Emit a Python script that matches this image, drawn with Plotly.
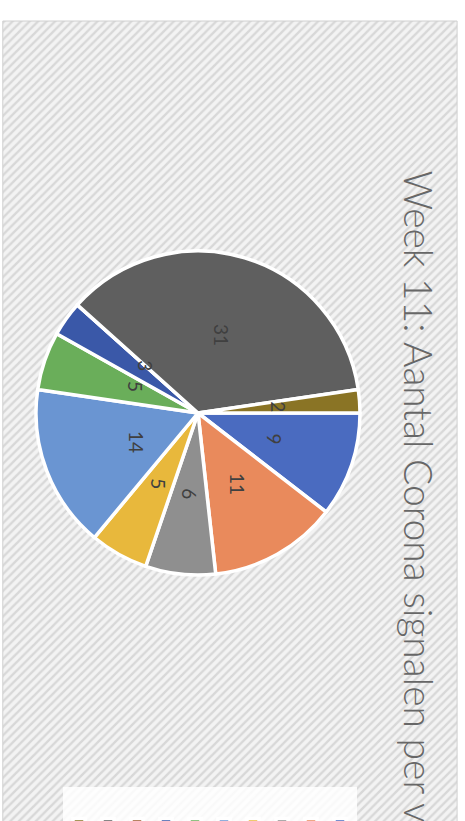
import math
import plotly.graph_objects as go

# ----------------- data ----------------- #
categorieen = ["A", "B", "C", "D", "E", "F", "G", "H", "I", "J"]
aantallen = [9, 11, 6, 5, 14, 5, 3, 0, 31, 2]
kleuren = ["#4a6bc0", "#e98a5c", "#8f8f8f", "#e8b83c", "#6a95d2",
           "#6aae5a", "#3a58a8", "#9e5a2e", "#5f5f5f", "#8a7425"]
titel = "Week 11: Aantal Corona signalen per vestiging"

# ----------------- layout helpers ----------------- #
W, H = 465, 821
CX, CY, R = 198, 413, 162   # pie centre and radius (px)

fig = go.Figure()

# hatched chart area behind the pie
fig.add_trace(go.Scatter(
    x=[0.006, 0.983, 0.983, 0.006, 0.006],
    y=[-0.02, -0.02, 0.9744, 0.9744, -0.02],
    mode="lines", fill="toself",
    line=dict(color="#d0d0d0", width=1),
    fillpattern=dict(shape="/", size=6, solidity=0.4,
                     fgcolor="#bdbdbd", bgcolor="#f3f3f3"),
    hoverinfo="skip", showlegend=False))

fig.add_trace(go.Pie(
    labels=categorieen, values=aantallen,
    sort=False, direction="clockwise", rotation=90,
    marker=dict(colors=kleuren, line=dict(color="white", width=3.5)),
    textinfo="none", hoverinfo="label+value",
    domain=dict(x=[(CX - R) / W, (CX + R) / W],
                y=[(H - CY - R) / H, (H - CY + R) / H])))

# value labels, rotated like the rest of the chart
totaal = sum(aantallen)
cum = 0
for n in aantallen:
    if n:
        a = math.radians(90 + (cum + n / 2) / totaal * 360)
        lx = CX + 0.5 * R * math.sin(a)
        ly = CY - 0.5 * R * math.cos(a)
        fig.add_annotation(x=lx / W, y=1 - ly / H, xref="paper", yref="paper",
                           text=str(n), textangle=90, showarrow=False,
                           font=dict(family="Lato", size=19, color="#404040"))
    cum += n

# title running down the right-hand side
fig.add_annotation(x=419 / W, y=1 - 168 / H, xref="paper", yref="paper",
                   xanchor="center", yanchor="top", text=titel, textangle=90,
                   showarrow=False,
                   font=dict(family="Lato", size=39, color="#676767", weight=300))

# pale legend panel at the bottom
fig.add_shape(type="rect", xref="paper", yref="paper",
              x0=63 / W, x1=357 / W, y0=-0.05, y1=(H - 787) / H,
              fillcolor="rgba(255,255,255,0.85)", line=dict(width=0), layer="above")

fig.update_layout(
    width=W, height=H,
    margin=dict(l=0, r=0, t=0, b=0, autoexpand=False),
    paper_bgcolor="white", plot_bgcolor="rgba(0,0,0,0)",
    xaxis=dict(visible=False, range=[0, 1], fixedrange=True),
    yaxis=dict(visible=False, range=[0, 1], fixedrange=True),
    showlegend=True,
    legend=dict(orientation="h", traceorder="reversed",
                entrywidthmode="fraction", entrywidth=29 / W,
                x=59 / W, xanchor="left", y=1 - 810 / H, yanchor="top",
                bgcolor="rgba(0,0,0,0)",
                font=dict(family="Lato", size=4, color="#9a9a9a")),
)

fig.write_html("out.html", config={"displayModeBar": False},
               post_script="document.body.style.margin='0';")
